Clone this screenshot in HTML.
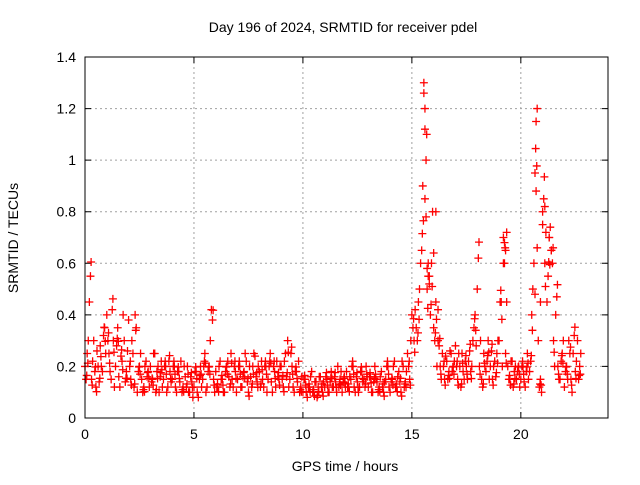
<!DOCTYPE html>
<html><head><meta charset="utf-8">
<style>
body{margin:0;background:#fff;}
svg text{font-family:"Liberation Sans",sans-serif;font-size:14px;fill:#000;}
</style></head>
<body>
<svg id="chart" width="640" height="480" xmlns="http://www.w3.org/2000/svg">
<rect x="0" y="0" width="640" height="480" fill="#fff"/>
<text x="343" y="32" text-anchor="middle">Day 196 of 2024, SRMTID for receiver pdel</text>
<text x="345" y="471" text-anchor="middle">GPS time / hours</text>
<text transform="translate(18,238) rotate(-90)" text-anchor="middle">SRMTID / TECUs</text>
<g id="grid"></g>
<g id="axes"></g>
<g id="marks"></g>
<rect x="85" y="57" width="523" height="361" fill="none" stroke="#000" stroke-width="1"/>
</svg>
<script>
const xTicks=[0,5,10,15,20];
const yTicks=[0,0.2,0.4,0.6,0.8,1,1.2,1.4];
const yTickLabels=["0","0.2","0.4","0.6","0.8","1","1.2","1.4"];
const seriesA=[0.2,0.25,0.45,0.15,0.3,0.12,0.2,0.28,0.18,0.35,
0.4,0.25,0.15,0.3,0.2,0.35,0.12,0.22,0.3,0.18,
0.38,0.15,0.25,0.4,0.1,0.2,0.15,0.12,0.22,0.18,
0.2,0.15,0.25,0.18,0.1,0.22,0.15,0.2,0.12,0.18,
0.15,0.2,0.1,0.18,0.22,0.12,0.16,0.2,0.1,0.14,
0.12,0.18,0.08,0.2,0.15,0.25,0.12,0.2,0.42,0.15,
0.18,0.12,0.22,0.15,0.1,0.2,0.16,0.25,0.12,0.18,
0.15,0.2,0.12,0.18,0.22,0.1,0.16,0.2,0.24,0.14,
0.18,0.22,0.12,0.2,0.15,0.25,0.1,0.18,0.22,0.15,
0.2,0.12,0.25,0.3,0.15,0.2,0.1,0.18,0.22,0.12,
0.1,0.15,0.08,0.12,0.18,0.1,0.14,0.12,0.16,0.1,
0.12,0.15,0.1,0.18,0.12,0.14,0.2,0.15,0.1,0.16,
0.18,0.12,0.15,0.2,0.1,0.14,0.12,0.18,0.15,0.2,
0.12,0.16,0.1,0.2,0.14,0.12,0.18,0.1,0.15,0.2,
0.1,0.15,0.22,0.12,0.18,0.1,0.2,0.14,0.25,0.15,
0.4,0.3,0.35,0.45,0.6,0.9,1.2,0.5,0.55,0.6,
0.35,0.45,0.3,0.2,0.25,0.15,0.22,0.18,0.25,0.2,
0.28,0.15,0.2,0.25,0.15,0.2,0.22,0.18,0.3,0.4,
0.5,0.2,0.15,0.25,0.18,0.3,0.2,0.15,0.22,0.25,
0.3,0.45,0.7,0.25,0.2,0.15,0.22,0.18,0.15,0.2,
0.15,0.2,0.12,0.25,0.18,0.4,0.6,1.15,0.3,0.15,
0.8,0.6,0.45,0.7,0.65,0.3,0.4,0.2,0.15,0.25,
0.12,0.2,0.3,0.15,0.25,0.18,0.3,0.2];
const seriesB=[0.15,0.3,0.55,0.22,0.18,0.26,0.14,0.2,0.32,0.25,
0.3,0.18,0.42,0.12,0.28,0.16,0.24,0.4,0.14,0.26,
0.2,0.3,0.12,0.35,0.18,0.25,0.1,0.2,0.16,0.12,
0.14,0.25,0.1,0.2,0.16,0.12,0.2,0.1,0.22,0.14,
0.2,0.12,0.18,0.14,0.1,0.2,0.12,0.1,0.16,0.08,
0.18,0.1,0.15,0.12,0.2,0.1,0.18,0.3,0.38,0.1,
0.12,0.2,0.15,0.1,0.18,0.22,0.12,0.15,0.2,0.1,
0.2,0.12,0.16,0.25,0.14,0.2,0.12,0.25,0.16,0.2,
0.12,0.15,0.2,0.1,0.2,0.14,0.2,0.12,0.16,0.2,
0.15,0.22,0.16,0.12,0.25,0.12,0.18,0.14,0.1,0.16,
0.15,0.1,0.12,0.16,0.1,0.14,0.08,0.16,0.12,0.14,
0.16,0.1,0.14,0.12,0.16,0.1,0.12,0.18,0.14,0.12,
0.12,0.16,0.2,0.12,0.16,0.1,0.18,0.14,0.12,0.16,
0.16,0.1,0.14,0.15,0.1,0.16,0.12,0.14,0.2,0.12,
0.14,0.2,0.12,0.16,0.14,0.22,0.12,0.18,0.2,0.3,
0.35,0.42,0.3,0.5,0.65,1.3,1.0,0.6,0.4,0.8,
0.3,0.2,0.28,0.15,0.2,0.24,0.15,0.26,0.18,0.22,
0.2,0.25,0.12,0.18,0.22,0.15,0.26,0.2,0.35,0.28,
0.62,0.3,0.12,0.2,0.22,0.15,0.26,0.2,0.16,0.3,
0.45,0.2,0.6,0.72,0.15,0.22,0.12,0.2,0.18,0.12,
0.2,0.14,0.18,0.15,0.22,0.5,0.95,1.2,0.12,0.1,
0.85,0.72,0.55,0.74,0.6,0.2,0.47,0.15,0.22,0.3,
0.18,0.15,0.25,0.1,0.32,0.22,0.15,0.25];
const spikeHours=[15.55,15.6,15.6,15.65,15.7,15.75,15.8,16.0,16.1,16.2,19.2,19.25,19.3,19.35,20.65,20.7,20.75,20.9,21.0,21.1,21.3,21.4];
const spikeValues=[1.26,1.12,0.85,0.78,0.58,0.55,0.52,0.64,0.8,0.42,0.6,0.68,0.65,0.45,0.48,0.88,0.66,0.45,0.75,0.82,0.7,0.65];
const X0=85,X1=608,Y0=418,Y1=57;
const xs=h=>X0+(h/24)*(X1-X0);
const ys=v=>Y0-(v/1.4)*(Y0-Y1);
const NS="http://www.w3.org/2000/svg";
const grid=document.getElementById('grid'),axes=document.getElementById('axes'),marks=document.getElementById('marks');
function mk(tag,attrs,parent){const e=document.createElementNS(NS,tag);for(const k in attrs)e.setAttribute(k,attrs[k]);parent.appendChild(e);return e;}
xTicks.forEach(t=>{
  const x=xs(t);
  if(t>0){const g=mk('line',{x1:x,x2:x,y1:Y1,y2:Y0,stroke:'#a0a0a0','stroke-dasharray':'2,3'},grid);
  
  }
  const tk=mk('path',{d:`M${x},${Y0}v-6M${x},${Y1}v6`,stroke:'#000'},axes);
  
  
  const tx=mk('text',{x:x,y:Y0+21,'text-anchor':'middle'},axes);tx.textContent=t;
  
  
});
yTicks.forEach((t,i)=>{
  const y=ys(t);
  if(t>0&&t<1.4){const g=mk('line',{x1:X0,x2:X1,y1:y,y2:y,stroke:'#a0a0a0','stroke-dasharray':'2,3'},grid);
  
  }
  const tk=mk('path',{d:`M${X0},${y}h6M${X1},${y}h-6`,stroke:'#000'},axes);
  
  
  const tx=mk('text',{x:X0-9,y:y+5,'text-anchor':'end'},axes);tx.textContent=yTickLabels[i];
  
  
});
function plus(h,v,col){
  const x=xs(h),y=ys(v);
  const p=mk('path',{d:`M${x-4},${y}h8M${x},${y-4}v8`,stroke:col,'stroke-width':1.3},marks);
  
  
}
seriesA.forEach((v,i)=>plus(i*0.1,v,'#ff0000'));
seriesB.forEach((v,i)=>plus(i*0.1+0.05,v,'#ff0000'));
seriesA.forEach((v,i)=>{if(i%2)plus(i*0.1+0.03,v*0.85,'#ff0000');});
seriesB.forEach((v,i)=>{if(i%2==0)plus(i*0.1+0.08,v*1.1,'#ff0000');});
spikeHours.forEach((h,i)=>plus(h,spikeValues[i],'#ff0000'));
</script>
</body></html>
